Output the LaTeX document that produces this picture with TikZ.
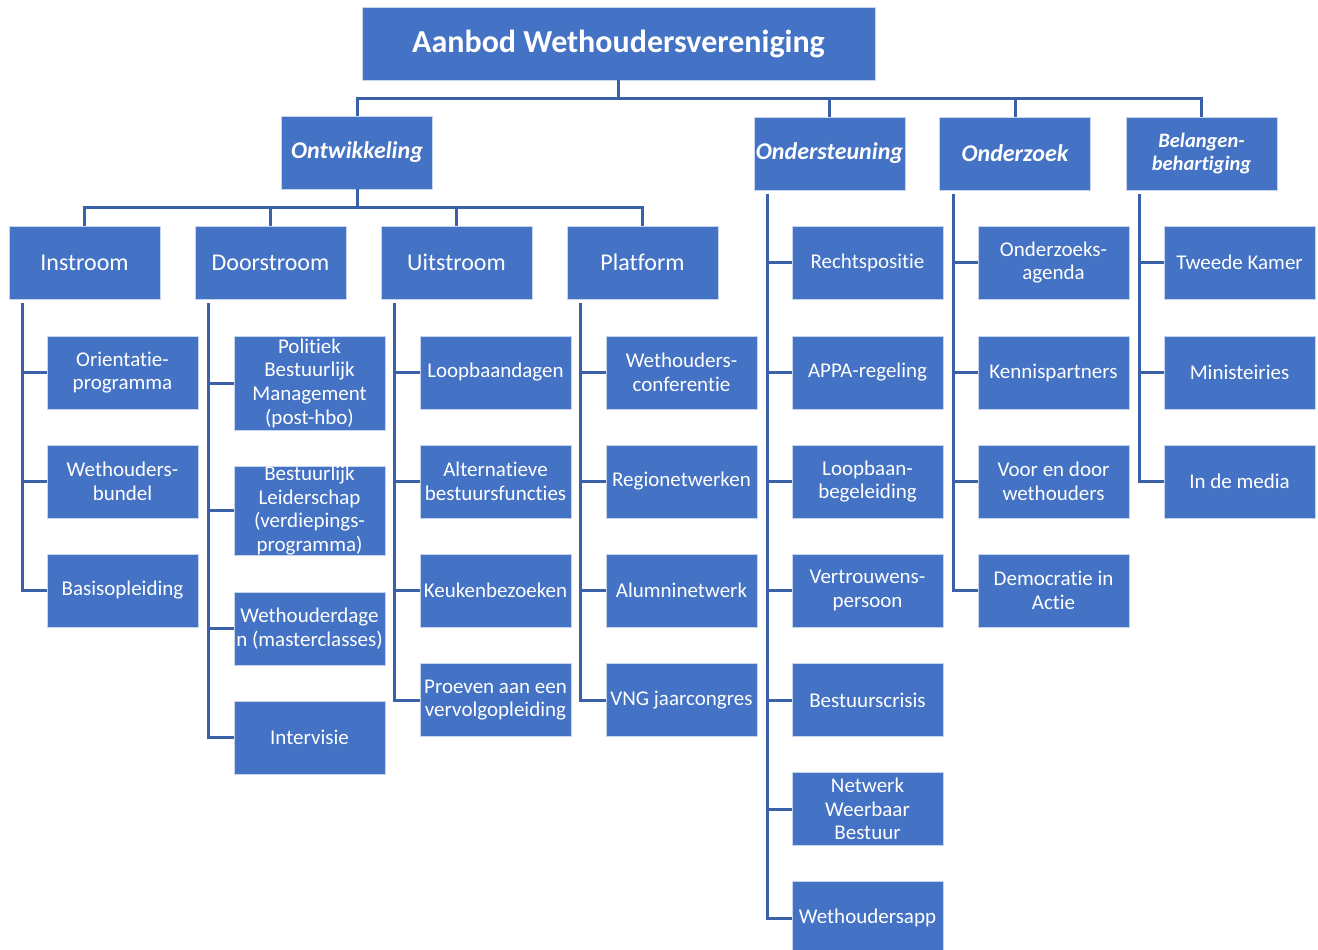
\documentclass[tikz,border=0pt]{standalone}
\usepackage{fontspec}
\setmainfont{Carlito}[RawFeature={-liga;-clig;-dlig;-calt}]
\definecolor{wvblue}{RGB}{68,114,196}
\definecolor{wvline}{RGB}{59,96,170}

\begin{document}
\begin{tikzpicture}[x=1pt,y=-1pt,
  box/.style={draw=white!70!wvblue,line width=0.8pt,fill=wvblue,text=white,inner sep=0pt,align=center},
  topbox/.style={box,minimum width=513,minimum height=73,font=\fontsize{32}{38}\selectfont\bfseries},
  hoofd/.style={box,minimum width=151,minimum height=73,font=\fontsize{24}{28}\selectfont\bfseries\itshape},
  tak/.style={box,minimum width=151,minimum height=73,font=\fontsize{24}{28}\selectfont},
  item/.style={box,minimum width=151,minimum height=73,font=\fontsize{21}{23.6}\selectfont},
  conn/.style={draw=wvline,line width=3pt}]
  \useasboundingbox (0,0) rectangle (1318,950);

  % top
  \node[topbox] (top) at (618.5,43.5) {Aanbod Wethoudersvereniging};

  % first level
  \node[hoofd] (ontw) at (357,152.5) {Ontwikkeling};
  \node[hoofd] (onst) at (829.5,153.5) {Ondersteuning};
  \node[hoofd] (onzk) at (1015,153.5) {Onderzoek};
  \node[hoofd,font=\fontsize{20.5}{23}\selectfont\bfseries\itshape] (bel) at (1201.5,153.5) {Belangen-\\behartiging};

  % second level under Ontwikkeling
  \node[tak] (ins) at (84.5,262.5) {Instroom};
  \node[tak] (door) at (270.5,262.5) {Doorstroom};
  \node[tak] (uit) at (456.5,262.5) {Uitstroom};
  \node[tak] (plat) at (642.5,262.5) {Platform};

  % Instroom
  \node[item] (ins1) at (122.5,372.5) {Orientatie-\\programma};
  \node[item] (ins2) at (122.5,481.5) {Wethouders-\\bundel};
  \node[item] (ins3) at (122.5,590.5) {Basisopleiding};

  % Doorstroom
  \node[item,minimum height=94] (door1) at (309.5,383) {Politiek\\Bestuurlijk\\Management\\(post-hbo)};
  \node[item,minimum height=89] (door2) at (309.5,510.5) {Bestuurlijk\\Leiderschap\\(verdiepings-\\programma)};
  \node[item] (door3) at (309.5,628.5) {Wethouderdage\\n (masterclasses)};
  \node[item] (door4) at (309.5,737.5) {Intervisie};

  % Uitstroom
  \node[item] (uit1) at (495.5,372.5) {Loopbaandagen};
  \node[item] (uit2) at (495.5,481.5) {Alternatieve\\bestuursfuncties};
  \node[item] (uit3) at (495.5,590.5) {Keukenbezoeken};
  \node[item] (uit4) at (495.5,700) {Proeven aan een\\vervolgopleiding};

  % Platform
  \node[item] (plat1) at (681.5,372.5) {Wethouders-\\conferentie};
  \node[item] (plat2) at (681.5,481.5) {Regionetwerken};
  \node[item] (plat3) at (681.5,590.5) {Alumninetwerk};
  \node[item] (plat4) at (681.5,700) {VNG jaarcongres};

  % Ondersteuning
  \node[item] (onst1) at (867.5,262.5) {Rechtspositie};
  \node[item] (onst2) at (867.5,372.5) {APPA-regeling};
  \node[item] (onst3) at (867.5,481.5) {Loopbaan-\\begeleiding};
  \node[item] (onst4) at (867.5,590.5) {Vertrouwens-\\persoon};
  \node[item] (onst5) at (867.5,700) {Bestuurscrisis};
  \node[item] (onst6) at (867.5,809) {Netwerk\\Weerbaar\\Bestuur};
  \node[item] (onst7) at (867.5,918) {Wethoudersapp};

  % Onderzoek
  \node[item] (onzk1) at (1053.5,262.5) {Onderzoeks-\\agenda};
  \node[item] (onzk2) at (1053.5,372.5) {Kennispartners};
  \node[item] (onzk3) at (1053.5,481.5) {Voor en door\\wethouders};
  \node[item] (onzk4) at (1053.5,590.5) {Democratie in\\Actie};

  % Belangenbehartiging
  \node[item] (bel1) at (1239.5,262.5) {Tweede Kamer};
  \node[item] (bel2) at (1239.5,372.5) {Ministeiries};
  \node[item] (bel3) at (1239.5,481.5) {In de media};

  % connectors
  \foreach \n in {ontw,onst,onzk,bel}
    \draw[conn] (top.south) -- ++(0,18) -| (\n.north);
  \foreach \n in {ins,door,uit,plat}
    \draw[conn] (ontw.south) -- ++(0,18) -| (\n.north);

  \foreach \p/\c in {ins/ins1,ins/ins2,ins/ins3,
                     door/door1,door/door2,door/door3,door/door4,
                     uit/uit1,uit/uit2,uit/uit3,uit/uit4,
                     plat/plat1,plat/plat2,plat/plat3,plat/plat4,
                     onst/onst1,onst/onst2,onst/onst3,onst/onst4,onst/onst5,onst/onst6,onst/onst7,
                     onzk/onzk1,onzk/onzk2,onzk/onzk3,onzk/onzk4,
                     bel/bel1,bel/bel2,bel/bel3}
    \draw[conn] ([xshift=14pt,yshift=-4pt]\p.south west) |- (\c.west);
\end{tikzpicture}
\end{document}
